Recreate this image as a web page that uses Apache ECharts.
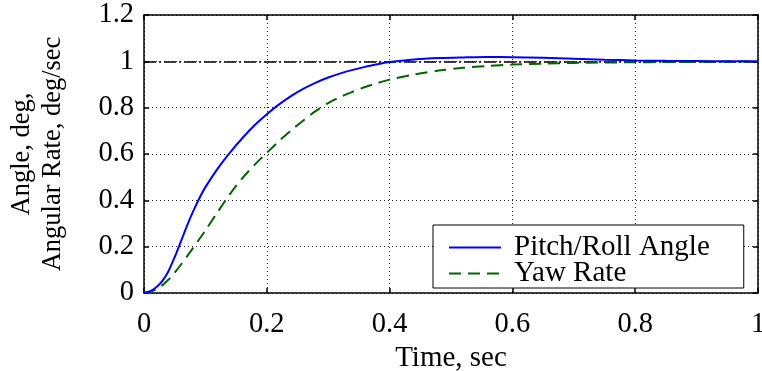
<!DOCTYPE html>
<html>
<head>
<meta charset="utf-8">
<script src="https://cdn.jsdelivr.net/npm/echarts@6/dist/echarts.min.js"></script>
<style>
  html, body { margin: 0; padding: 0; background: #fff; }
  #chart { width: 762px; height: 371px; }
</style>
</head>
<body>
<div id="chart"></div>
<script>
// time samples, sec
const timeSec = [0, 0.01, 0.02, 0.03, 0.04, 0.05, 0.06, 0.07, 0.08, 0.09, 0.10,
  0.12, 0.14, 0.16, 0.18, 0.20, 0.22, 0.24, 0.26, 0.28, 0.30, 0.32, 0.34, 0.36,
  0.38, 0.40, 0.44, 0.48, 0.52, 0.56, 0.60, 0.65, 0.70, 0.75, 0.80, 0.85, 0.90,
  0.95, 1.0]
// pitch/roll angle response
const pitchRoll = [0, 0.008, 0.025, 0.052, 0.095, 0.155, 0.222, 0.29, 0.352, 0.408, 0.457,
  0.537, 0.606, 0.668, 0.724, 0.772, 0.814, 0.851, 0.882, 0.908, 0.93, 0.948, 0.963, 0.976,
  0.987, 0.997, 1.008, 1.014, 1.017, 1.019, 1.018, 1.015, 1.011, 1.007, 1.004, 1.002, 1.001,
  1.0, 1.0]
// yaw rate response
const yawRate = [0, 0.005, 0.016, 0.034, 0.058, 0.088, 0.122, 0.158, 0.195, 0.232, 0.27,
  0.35, 0.427, 0.495, 0.553, 0.605, 0.656, 0.703, 0.746, 0.786, 0.82, 0.847, 0.869, 0.889,
  0.906, 0.921, 0.943, 0.96, 0.972, 0.98, 0.986, 0.99, 0.993, 0.995, 0.996, 0.997, 0.998,
  0.999, 1.0]
const seriesNames = ['Pitch/Roll Angle', 'Yaw Rate']
const xTicks = [0, 1, 0.2]   // min, max, step
const yTicks = [0, 1.2, 0.2]
const refValue = 1

const FONT = 'Liberation Serif'
const chart = echarts.init(document.getElementById('chart'))

const pair = (vals) => timeSec.map((t, i) => [t, vals[i]])

const frameAxis = {
  axisLine: { show: true, onZero: false, lineStyle: { color: '#000', width: 1.5 } },
  axisTick: { show: true, inside: true, length: 5, lineStyle: { color: '#000', width: 1.5 } }
}

const option = {
  animation: false,
  backgroundColor: '#fff',
  grid: { left: 144, right: 4, top: 15, bottom: 78, containLabel: false, outerBoundsMode: 'none' },
  legend: {
    left: 433,
    top: 225,
    orient: 'vertical',
    backgroundColor: '#fff',
    borderColor: '#000',
    borderWidth: 1,
    borderRadius: 0,
    padding: [8, 34, 0, 15],
    itemWidth: 52,
    itemHeight: 14,
    itemGap: -3,
    itemStyle: { opacity: 0 },
    data: seriesNames,
    textStyle: { fontFamily: FONT, fontSize: 29, color: '#000', lineHeight: 23, padding: [0, 0, 0, 8] }
  },
  xAxis: [
    {
      type: 'value', min: xTicks[0], max: xTicks[1], interval: xTicks[2], position: 'bottom',
      ...frameAxis,
      axisLabel: { fontFamily: FONT, fontSize: 28.5, color: '#000', margin: 17 },
      splitLine: { show: true, lineStyle: { color: '#222', type: [1, 3], width: 1 } },
      name: 'Time, sec', nameLocation: 'middle', nameGap: 50,
      nameTextStyle: { fontFamily: FONT, fontSize: 29, color: '#000' }
    },
    {
      type: 'value', min: xTicks[0], max: xTicks[1], interval: xTicks[2], position: 'top',
      ...frameAxis, axisLabel: { show: false }, splitLine: { show: false }
    }
  ],
  yAxis: [
    {
      type: 'value', min: yTicks[0], max: yTicks[1], interval: yTicks[2], position: 'left',
      ...frameAxis,
      axisLabel: { fontFamily: FONT, fontSize: 28.5, color: '#000', margin: 10 },
      splitLine: { show: true, lineStyle: { color: '#222', type: [1, 3], width: 1 } },
      name: 'Angle, deg,\nAngular Rate, deg/sec', nameLocation: 'middle', nameRotate: 90, nameGap: 75,
      nameTextStyle: { fontFamily: FONT, fontSize: 26.5, color: '#000', lineHeight: 31, align: 'center' }
    },
    {
      type: 'value', min: yTicks[0], max: yTicks[1], interval: yTicks[2], position: 'right',
      ...frameAxis, axisLabel: { show: false }, splitLine: { show: false }
    }
  ],
  series: [
    {
      name: seriesNames[1],
      type: 'line',
      data: pair(yawRate),
      symbol: 'none',
      smooth: 0.3,
      color: '#006400',
      lineStyle: { color: '#006400', width: 2, type: [12, 7] },
      z: 3
    },
    {
      name: seriesNames[0],
      type: 'line',
      data: pair(pitchRoll),
      symbol: 'none',
      smooth: 0.3,
      color: '#0000ff',
      lineStyle: { color: '#0000ff', width: 2 },
      z: 4,
      markLine: {
        silent: true,
        symbol: 'none',
        label: { show: false },
        lineStyle: { color: '#000', width: 1.5, type: [12, 3, 2, 3] },
        data: [{ yAxis: refValue }],
        z: 2
      }
    }
  ]
}
chart.setOption(option)
</script>
</body>
</html>
